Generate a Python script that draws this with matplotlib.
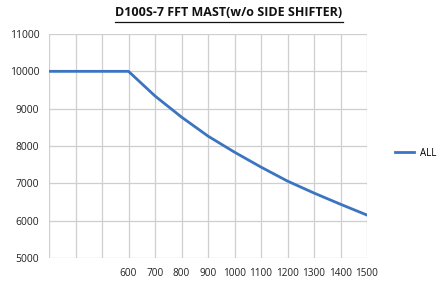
import matplotlib

matplotlib.use("Agg")
import matplotlib.pyplot as plt

# categories along the x axis (first three are unlabeled)
categories = ["", "", "", "600", "700", "800", "900", "1000", "1100", "1200", "1300", "1400", "1500"]
capacity = [10000, 10000, 10000, 10000, 9340, 8775, 8265, 7835, 7435, 7060, 6740, 6440, 6150]
y_ticks = [5000, 6000, 7000, 8000, 9000, 10000, 11000]

plt.rcParams["font.family"] = ["Open Sans", "DejaVu Sans"]

fig = plt.figure(figsize=(4.37, 2.81), dpi=100)
ax = fig.add_axes([49 / 437, 1 - 258 / 281, 318 / 437, 224 / 281])

xs = range(len(categories))
line, = ax.plot(xs, capacity, color="#3b74c1", linewidth=2.0, label="ALL")

ax.set_xlim(0, len(categories) - 1)
ax.set_ylim(5000, 11000)
ax.set_xticks(list(xs))
ax.set_xticklabels(categories, fontsize=7.2, color="#222222")
ax.set_yticks(y_ticks)
ax.set_yticklabels([str(v) for v in y_ticks], fontsize=7.5, color="#222222")
ax.tick_params(axis="x", length=0, pad=7)
ax.tick_params(axis="y", length=0, pad=7)
ax.grid(True, color="#cfcfcf", linewidth=0.9)
ax.set_axisbelow(True)
for s in ax.spines.values():
    s.set_visible(False)

fig.text(229 / 437, 1 - 13 / 281, "D100S-7 FFT MAST(w/o SIDE SHIFTER)",
         ha="center", va="center", fontsize=9, fontweight="bold", color="#111111")
# underline under the title
fig.add_artist(plt.Line2D([115 / 437, 343 / 437], [1 - 22 / 281, 1 - 22 / 281],
                          color="#111111", linewidth=0.9))

fig.legend(handles=[line], labels=["ALL"], loc="center left",
           bbox_to_anchor=(386 / 437, 1 - 153 / 281), frameon=False,
           fontsize=7, handlelength=2.0, handletextpad=0.6)

fig.savefig("out.png", dpi=100)
